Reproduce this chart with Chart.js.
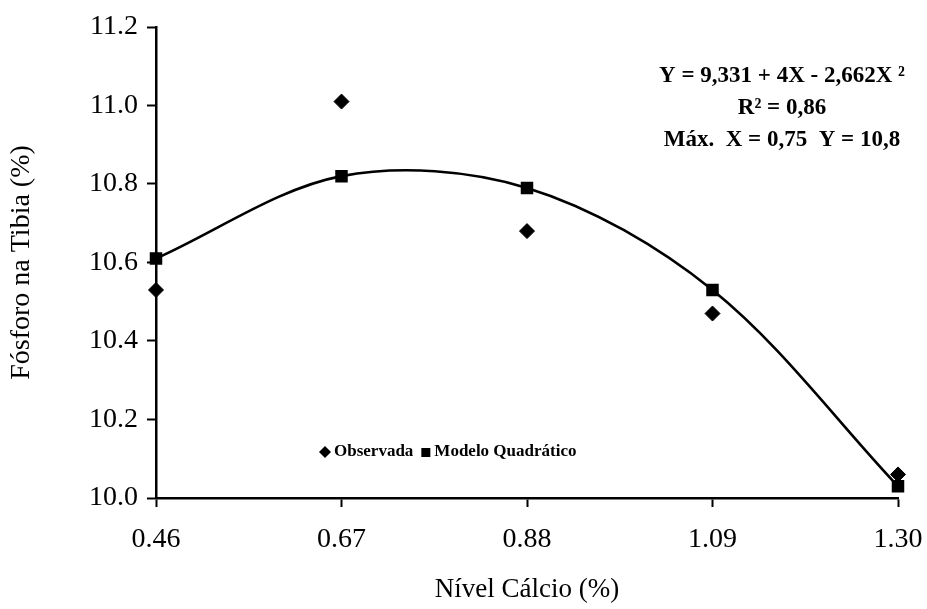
<!DOCTYPE html>
<html>
<head>
<meta charset="utf-8">
<script src="https://cdn.jsdelivr.net/npm/chart.js@4"></script>
<style>
  html, body { margin: 0; padding: 0; background: #fff; }
  #wrap { width: 927px; height: 609px; }
</style>
</head>
<body>
<div id="wrap"><canvas id="myChart" width="927" height="609"></canvas></div>
<script>
const niveis = [0.46, 0.67, 0.88, 1.09, 1.30];
const observada = [10.53, 11.01, 10.68, 10.47, 10.06];
const modelo = [10.61, 10.82, 10.79, 10.53, 10.03];
const yTicks = [10.0, 10.2, 10.4, 10.6, 10.8, 11.0, 11.2];
const equacao = ['Y = 9,331 + 4X - 2,662X \u00B2', 'R\u00B2 = 0,86', 'M\u00E1x.  X = 0,75  Y = 10,8'];
const legendaTextos = ['Observada', 'Modelo Quadr\u00E1tico'];

const serif = "'Liberation Serif', 'Times New Roman', serif";

const textosPlugin = {
  id: 'textos',
  afterDraw(chart) {
    const ctx = chart.ctx;
    ctx.save();
    ctx.fillStyle = '#000';
    ctx.textBaseline = 'middle';

    // equation block, top right
    ctx.font = 'bold 23px ' + serif;
    ctx.textAlign = 'center';
    equacao.forEach(function(t, i) {
      ctx.fillText(t, 782, 76 + i * 32);
    });

    // legend inside the plot
    ctx.font = 'bold 17px ' + serif;
    ctx.textAlign = 'left';
    let x = 325, y = 452;
    ctx.beginPath();
    ctx.moveTo(x, y - 6); ctx.lineTo(x + 6, y); ctx.lineTo(x, y + 6); ctx.lineTo(x - 6, y);
    ctx.closePath();
    ctx.fill();
    ctx.fillText(legendaTextos[0], x + 9, y);
    x += 9 + ctx.measureText(legendaTextos[0]).width + 12;
    ctx.fillRect(x - 4, y - 4, 9, 9);
    ctx.fillText(legendaTextos[1], x + 9, y);
    ctx.restore();
  }
};

function initChart() {
  const ctx = document.getElementById('myChart').getContext('2d');
  return new Chart(ctx, {
    type: 'scatter',
    data: {
      datasets: [{
        label: legendaTextos[1],
        data: niveis.map(function(x, i) { return {x: x, y: modelo[i]}; }),
        showLine: true,
        tension: 0.33,
        borderColor: '#000',
        borderWidth: 2.6,
        backgroundColor: '#000',
        pointStyle: 'rect',
        pointRadius: 7,
        clip: false
      }, {
        label: legendaTextos[0],
        data: niveis.map(function(x, i) { return {x: x, y: observada[i]}; }),
        showLine: false,
        borderColor: '#000',
        backgroundColor: '#000',
        pointStyle: 'rectRot',
        pointRadius: 7.5,
        clip: false
      }]
    },
    options: {
      responsive: false,
      animation: false,
      layout: { padding: { left: 0, top: 27, right: 29, bottom: 0 } },
      plugins: { legend: { display: false }, tooltip: { enabled: false } },
      scales: {
        x: {
          type: 'linear',
          min: 0.46,
          max: 1.30,
          afterBuildTicks: function(axis) {
            axis.ticks = niveis.map(function(v) { return {value: v}; });
          },
          afterFit: function(axis) { axis.height = 111; axis.paddingLeft = 0; axis.paddingRight = 0; },
          grid: { drawOnChartArea: false, tickLength: 9, tickColor: '#000', tickWidth: 2 },
          border: { color: '#000', width: 2.5 },
          ticks: {
            color: '#000',
            padding: 16,
            maxRotation: 0,
            font: { family: serif, size: 28 },
            callback: function(v) { return Number(v).toFixed(2); }
          },
          title: {
            display: true,
            text: 'N\u00EDvel C\u00E1lcio (%)',
            color: '#000',
            font: { family: serif, size: 27 },
            padding: { top: 0, bottom: 3 }
          }
        },
        y: {
          min: 10.0,
          max: 11.2,
          afterBuildTicks: function(axis) {
            axis.ticks = yTicks.map(function(v) { return {value: v}; });
          },
          afterFit: function(axis) { axis.width = 156; },
          grid: { drawOnChartArea: false, tickLength: 9, tickColor: '#000', tickWidth: 2 },
          border: { color: '#000', width: 2.5 },
          ticks: {
            color: '#000',
            padding: 9,
            font: { family: serif, size: 28 },
            callback: function(v) { return Number(v).toFixed(1); }
          },
          title: {
            display: true,
            text: 'F\u00F3sforo na Tibia (%)',
            color: '#000',
            font: { family: serif, size: 28 },
            padding: { top: 5, bottom: 0 }
          }
        }
      }
    },
    plugins: [textosPlugin]
  });
}

initChart();
</script>
</body>
</html>
